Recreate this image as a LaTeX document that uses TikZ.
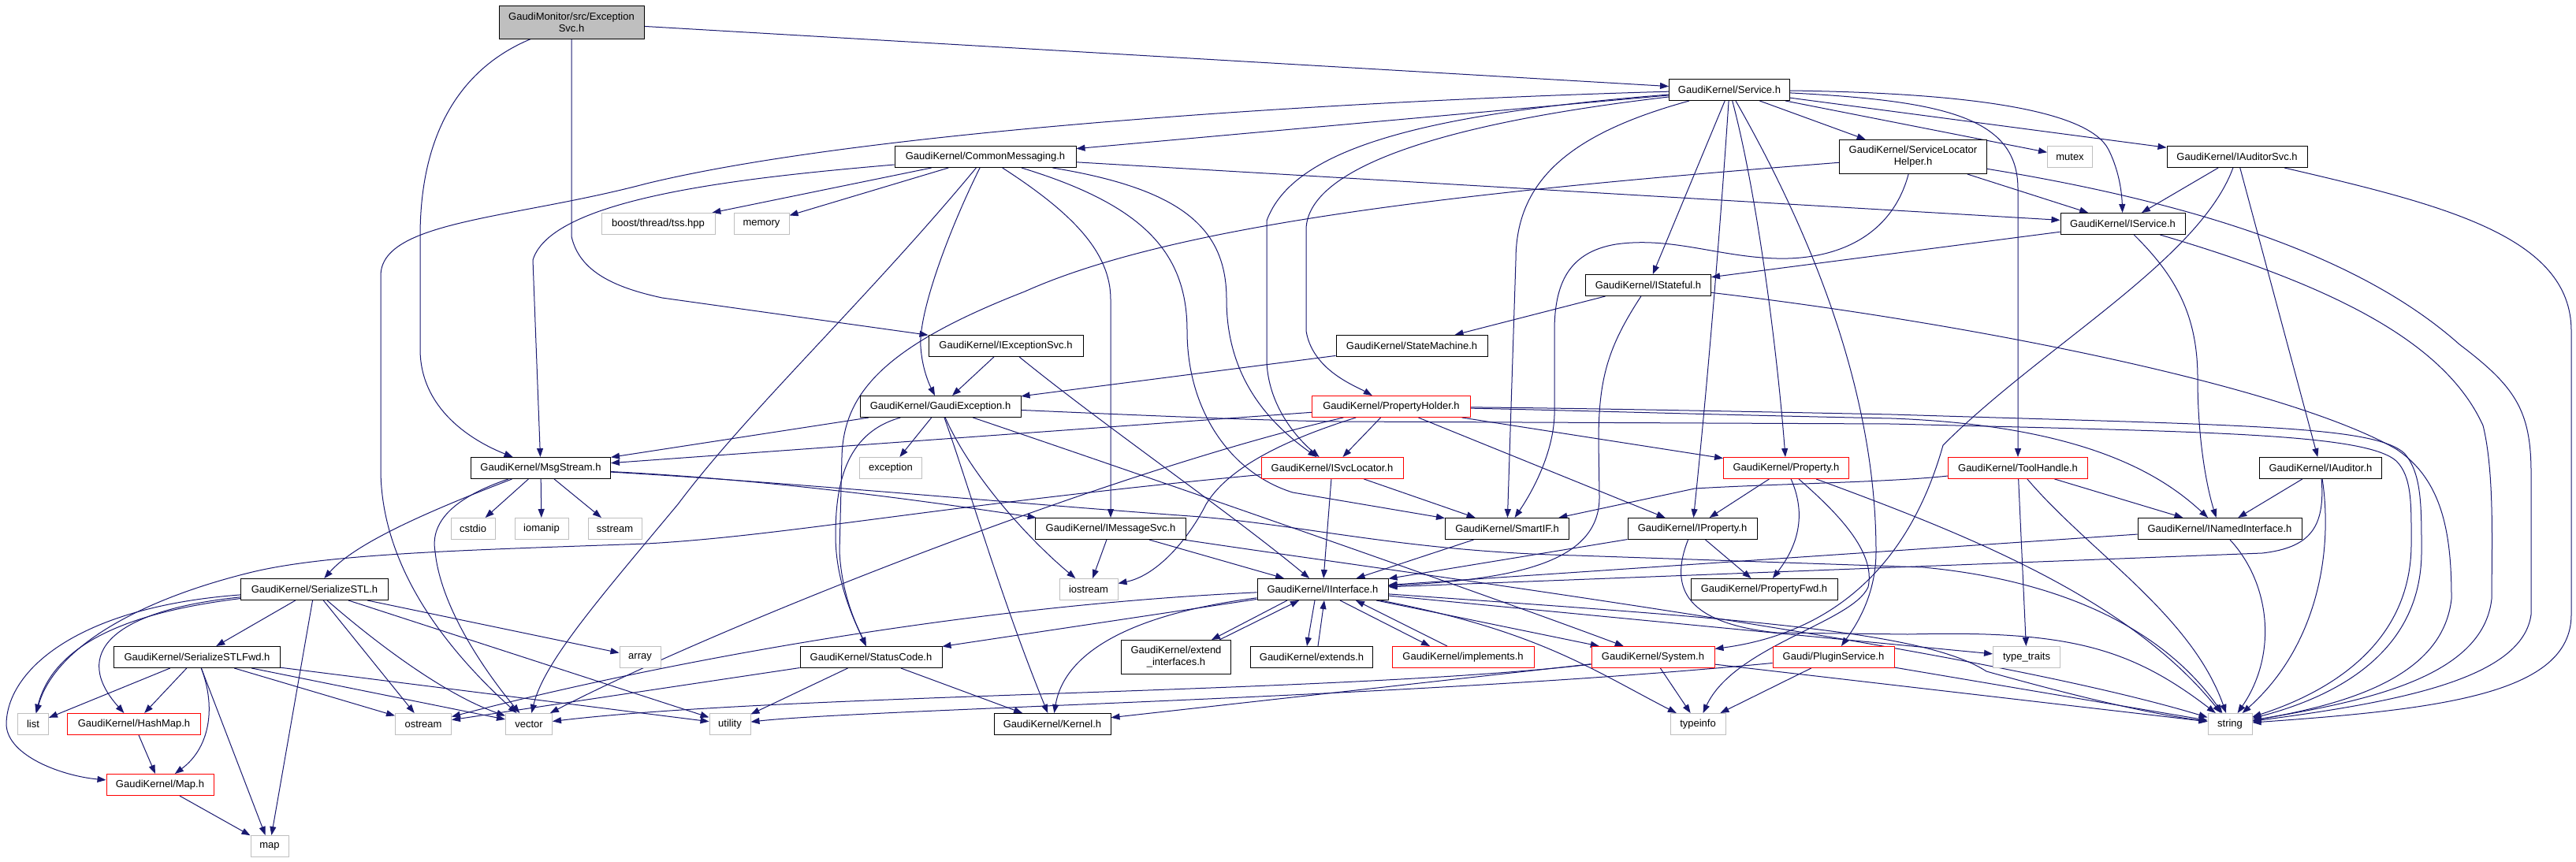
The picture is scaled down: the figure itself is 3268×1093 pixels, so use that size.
\documentclass[tikz,border=0pt]{standalone}
\usepackage{fontspec}
\setmainfont{Liberation Sans}
\usetikzlibrary{arrows.meta}
\definecolor{edgec}{HTML}{191970}
\definecolor{grayb}{HTML}{BFBFBF}
\newcommand\gkfont{\fontsize{13pt}{15pt}\selectfont}
\pgfdeclarelayer{bg}
\pgfsetlayers{bg,main}
\tikzset{
  gbox/.style={rectangle, font=\gkfont, minimum height=27pt, inner xsep=0pt, inner ysep=2pt, align=center, fill=white, line width=1pt},
  nb/.style={gbox, draw=black},
  nr/.style={gbox, draw=red},
  ng/.style={gbox, draw=grayb},
  root/.style={gbox, draw=black, fill=grayb},
  edg/.style={draw=edgec, line width=1pt, -{Triangle[length=11pt,width=8pt]}, fill=none}
}
\begin{document}
\begin{tikzpicture}[x=1pt,y=-1pt]
\useasboundingbox (0,0) rectangle (3268,1093);
% nodes
\node[root, minimum width=184pt, minimum height=42pt] (exsvc) at (725,28) {GaudiMonitor/src/Exception\\Svc.h};
\node[nb, minimum width=153pt] (svc) at (2194,114) {GaudiKernel/Service.h};
\node[nb, minimum width=230pt] (cm) at (1250,199) {GaudiKernel/CommonMessaging.h};
\node[ng, minimum width=144pt] (tss) at (835,284) {boost/thread/tss.hpp};
\node[ng, minimum width=70pt] (mem) at (966,284) {memory};
\node[nb, minimum width=187pt, minimum height=43pt] (slh) at (2427,199) {GaudiKernel/ServiceLocator\\Helper.h};
\node[ng, minimum width=57pt] (mutex) at (2626,199) {mutex};
\node[nb, minimum width=178pt] (ias) at (2838,199) {GaudiKernel/IAuditorSvc.h};
\node[nb, minimum width=158pt] (isvc) at (2693,284) {GaudiKernel/IService.h};
\node[nb, minimum width=159pt] (istate) at (2091,362) {GaudiKernel/IStateful.h};
\node[nb, minimum width=196pt] (iexc) at (1276,439) {GaudiKernel/IExceptionSvc.h};
\node[nb, minimum width=192pt] (sm) at (1791,439) {GaudiKernel/StateMachine.h};
\node[nb, minimum width=204pt] (gexc) at (1193,516) {GaudiKernel/GaudiException.h};
\node[nr, minimum width=201pt] (ph) at (1765,516) {GaudiKernel/PropertyHolder.h};
\node[nb, minimum width=177pt] (msg) at (686,594) {GaudiKernel/MsgStream.h};
\node[ng, minimum width=79pt] (exc) at (1130,594) {exception};
\node[nr, minimum width=180pt] (isl) at (1690,594) {GaudiKernel/ISvcLocator.h};
\node[nr, minimum width=159pt] (prop) at (2266,594) {GaudiKernel/Property.h};
\node[nr, minimum width=177pt] (th) at (2560,594) {GaudiKernel/ToolHandle.h};
\node[nb, minimum width=155pt] (iaud) at (2944,594) {GaudiKernel/IAuditor.h};
\node[ng, minimum width=56pt] (cstdio) at (600,671) {cstdio};
\node[ng, minimum width=68pt] (iomanip) at (687,671) {iomanip};
\node[ng, minimum width=68pt] (sstream) at (780,671) {sstream};
\node[nb, minimum width=191pt] (ims) at (1409,671) {GaudiKernel/IMessageSvc.h};
\node[nb, minimum width=157pt] (smart) at (1912,671) {GaudiKernel/SmartIF.h};
\node[nb, minimum width=164pt] (iprop) at (2147,671) {GaudiKernel/IProperty.h};
\node[nb, minimum width=208pt] (ini) at (2816,671) {GaudiKernel/INamedInterface.h};
\node[nb, minimum width=187pt] (sstl) at (399,748) {GaudiKernel/SerializeSTL.h};
\node[ng, minimum width=74pt] (iostream) at (1381,748) {iostream};
\node[nb, minimum width=166pt] (iif) at (1678,748) {GaudiKernel/IInterface.h};
\node[nb, minimum width=186pt] (pfwd) at (2238,748) {GaudiKernel/PropertyFwd.h};
\node[nb, minimum width=211pt] (sfwd) at (250,834) {GaudiKernel/SerializeSTLFwd.h};
\node[ng, minimum width=52pt] (array) at (812,834) {array};
\node[nb, minimum width=180pt] (sc) at (1105,834) {GaudiKernel/StatusCode.h};
\node[nb, minimum width=139pt, minimum height=43pt] (extif) at (1492,834) {GaudiKernel/extend\\\_interfaces.h};
\node[nb, minimum width=155pt] (ext) at (1664,834) {GaudiKernel/extends.h};
\node[nr, minimum width=180pt] (impl) at (1856,834) {GaudiKernel/implements.h};
\node[nr, minimum width=156pt] (sys) at (2097,834) {GaudiKernel/System.h};
\node[nr, minimum width=154pt] (plug) at (2326,834) {Gaudi/PluginService.h};
\node[ng, minimum width=85pt] (tt) at (2571,834) {type\_traits};
\node[ng, minimum width=39pt] (list) at (42,919) {list};
\node[nr, minimum width=169pt] (hmap) at (170,919) {GaudiKernel/HashMap.h};
\node[ng, minimum width=71pt] (ostream) at (537,919) {ostream};
\node[ng, minimum width=59pt] (vector) at (671,919) {vector};
\node[ng, minimum width=52pt] (utility) at (926,919) {utility};
\node[nb, minimum width=148pt] (kernel) at (1335,919) {GaudiKernel/Kernel.h};
\node[ng, minimum width=70pt] (typeinfo) at (2154,919) {typeinfo};
\node[ng, minimum width=56pt] (string) at (2829,919) {string};
\node[nr, minimum width=136pt] (gmap) at (203,996) {GaudiKernel/Map.h};
\node[ng, minimum width=48pt] (map) at (342,1074) {map};

\begin{pgfonlayer}{bg}
% ExceptionSvc
\draw[edg] (exsvc) -- (svc);
\draw[edg] (exsvc) .. controls (600,80) and (533,150) .. (533,300) -- (533,443) .. controls (533,520) and (600,560) .. (msg);
\draw[edg] (exsvc.south) -- (725,300) .. controls (735,345) and (780,365) .. (840,378) -- (iexc);
% Service
\draw[edg] (svc) -- (cm);
\draw[edg] (svc) .. controls (1700,128) and (1100,165) .. (820,233) .. controls (650,278) and (483,280) .. (483,350) -- (483,600) .. controls (485,700) and (540,800) .. (vector);
\draw[edg] (svc) .. controls (1800,145) and (1640,190) .. (1607,280) -- (1607,460) .. controls (1610,520) and (1650,560) .. (isl);
\draw[edg] (svc) .. controls (1800,160) and (1660,220) .. (1657,290) -- (1657,420) .. controls (1665,470) and (1720,490) .. (ph);
\draw[edg] (svc) .. controls (1990,170) and (1923,230) .. (1923,330) -- (smart);
\draw[edg] (svc) -- (istate);
\draw[edg] (svc) .. controls (2185,250) and (2170,450) .. (iprop);
\draw[edg] (svc) .. controls (2230,250) and (2255,450) .. (prop);
\draw[edg] (svc) .. controls (2300,300) and (2380,500) .. (2380,700) .. controls (2380,760) and (2350,800) .. (plug);
\draw[edg] (svc) -- (slh);
\draw[edg] (svc) .. controls (2500,118) and (2650,140) .. (2675,190) .. controls (2690,220) and (2692,250) .. (isvc);
\draw[edg] (svc) .. controls (2470,128) and (2560,150) .. (2560,240) -- (th);
\draw[edg] (svc) -- (mutex);
\draw[edg] (svc) -- (ias);
% CommonMessaging
\draw[edg] (cm) -- (tss);
\draw[edg] (cm) -- (mem);
\draw[edg] (cm) .. controls (950,225) and (700,250) .. (676,330) -- (msg);
\draw[edg] (cm) .. controls (1200,300) and (1165,400) .. (1168,440) .. controls (1170,470) and (1180,490) .. (gexc);
\draw[edg] (cm) .. controls (1360,270) and (1409,320) .. (1409,380) -- (ims);
\draw[edg] (cm) .. controls (1450,260) and (1506,320) .. (1506,420) .. controls (1506,520) and (1560,600) .. (1640,625) -- (smart);
\draw[edg] (cm) .. controls (1500,240) and (1556,290) .. (1556,380) .. controls (1556,470) and (1600,530) .. (isl);
\draw[edg] (cm) -- (isvc);
\draw[edg] (cm) .. controls (1100,380) and (950,520) .. (860,640) .. controls (760,760) and (690,840) .. (vector);
% ServiceLocatorHelper
\draw[edg] (slh) .. controls (2400,300) and (2330,330) .. (2254,328) .. controls (2180,326) and (2120,300) .. (2050,310) .. controls (1990,320) and (1972,360) .. (1972,420) -- (1972,527) .. controls (1970,580) and (1940,630) .. (smart);
\draw[edg] (slh) -- (isvc);
\draw[edg] (slh) .. controls (2800,260) and (3000,330) .. (3120,437) .. controls (3190,490) and (3211,520) .. (3211,600) -- (3211,780) .. controls (3200,860) and (3050,890) .. (string);
\draw[edg] (slh) .. controls (1900,240) and (1500,280) .. (1300,370) .. controls (1120,440) and (1070,500) .. (1068,580) -- (1065,700) .. controls (1068,760) and (1090,800) .. (sc);
% IAuditorSvc
\draw[edg] (ias) -- (isvc);
\draw[edg] (ias) .. controls (2790,330) and (2590,440) .. (2465,565) .. controls (2430,690) and (2350,800) .. (sys);
\draw[edg] (ias) -- (iaud);
\draw[edg] (ias) .. controls (3100,260) and (3262,300) .. (3262,420) -- (3262,780) .. controls (3262,880) and (3100,900) .. (string);
% IService
\draw[edg] (isvc) -- (istate);
\draw[edg] (isvc) .. controls (2760,350) and (2788,400) .. (2788,480) .. controls (2788,560) and (2800,620) .. (ini);
\draw[edg] (isvc) .. controls (2950,360) and (3100,430) .. (3150,540) .. controls (3165,600) and (3161,700) .. (3161,760) .. controls (3150,860) and (3000,890) .. (string);
% IStateful
\draw[edg] (istate) -- (sm);
\draw[edg] (istate) .. controls (2040,440) and (2028,480) .. (2028,560) -- (2029,630) .. controls (2030,715) and (1920,735) .. (iif);
\draw[edg] (istate) .. controls (2500,410) and (2900,490) .. (3040,570) .. controls (3100,610) and (3110,680) .. (3110,760) .. controls (3100,850) and (3000,890) .. (string);
% StateMachine, IExceptionSvc
\draw[edg] (sm) -- (gexc);
\draw[edg] (iexc) -- (gexc);
\draw[edg] (iexc) .. controls (1400,540) and (1560,650) .. (iif);
% GaudiException
\draw[edg] (gexc) -- (msg);
\draw[edg] (gexc) -- (exc);
\draw[edg] (gexc) .. controls (1070,550) and (1060,620) .. (1060,680) .. controls (1060,740) and (1085,790) .. (sc);
\draw[edg] (gexc) .. controls (1230,620) and (1270,760) .. (kernel);
\draw[edg] (gexc) .. controls (1230,600) and (1300,680) .. (iostream);
\draw[edg] (gexc) .. controls (1500,620) and (1900,760) .. (sys);
\draw[edg] (gexc) .. controls (1400,525) and (1600,534) .. (1700,535) -- (2400,538) .. controls (2800,548) and (3000,550) .. (3040,585) .. controls (3060,605) and (3059,640) .. (3059,690) .. controls (3059,820) and (2950,880) .. (string);
% PropertyHolder
\draw[edg] (ph) -- (msg);
\draw[edg] (ph) -- (isl);
\draw[edg] (ph) -- (prop);
\draw[edg] (ph) -- (iprop);
\draw[edg] (ph) .. controls (2000,521) and (2200,527) .. (2400,531) .. controls (2640,540) and (2740,600) .. (ini);
\draw[edg] (ph) .. controls (2000,518) and (2200,522) .. (2400,526) .. controls (2850,540) and (3010,540) .. (3050,575) .. controls (3072,600) and (3072,640) .. (3072,700) .. controls (3072,830) and (2960,885) .. (string);
\draw[edg] (ph) .. controls (1400,600) and (900,800) .. (vector);
\draw[edg] (ph) .. controls (1640,555) and (1560,590) .. (1530,640) .. controls (1510,680) and (1470,730) .. (iostream);
% ISvcLocator
\draw[edg] (isl) -- (smart);
\draw[edg] (isl) -- (iif);
\draw[edg] (isl) .. controls (1200,640) and (1000,680) .. (820,690) .. controls (600,698) and (420,702) .. (320,726) .. controls (180,760) and (70,820) .. (list);
% Property
\draw[edg] (prop) -- (iprop);
\draw[edg] (prop) .. controls (2295,660) and (2275,700) .. (pfwd);
\draw[edg] (prop) .. controls (2500,680) and (2700,760) .. (string);
\draw[edg] (prop) .. controls (2330,650) and (2380,700) .. (2370,745) .. controls (2350,790) and (2200,820) .. (typeinfo);
% ToolHandle
\draw[edg] (th) -- (ini);
\draw[edg] (th) -- (tt);
\draw[edg] (th) .. controls (2650,700) and (2780,780) .. (string);
\draw[edg] (th) .. controls (2400,612) and (2250,614) .. (2150,620) -- (smart);
% IAuditor
\draw[edg] (iaud) -- (ini);
\draw[edg] (iaud) .. controls (2960,700) and (2940,820) .. (string);
\draw[edg] (iaud) .. controls (2950,670) and (2930,695) .. (2870,702) -- (iif);
% INamedInterface
\draw[edg] (ini) -- (iif);
\draw[edg] (ini) .. controls (2880,740) and (2890,830) .. (string);
% IProperty
\draw[edg] (iprop) -- (iif);
\draw[edg] (iprop) -- (pfwd);
\draw[edg] (iprop) .. controls (2120,740) and (2130,790) .. (2254,803) -- (2420,805) .. controls (2620,800) and (2700,820) .. (string);
% MsgStream
\draw[edg] (msg) -- (cstdio);
\draw[edg] (msg) -- (iomanip);
\draw[edg] (msg) -- (sstream);
\draw[edg] (msg) .. controls (540,650) and (450,690) .. (sstl);
\draw[edg] (msg) .. controls (580,630) and (545,660) .. (552,700) .. controls (560,780) and (630,870) .. (vector);
\draw[edg] (msg) .. controls (1000,610) and (1200,640) .. (ims);
\draw[edg] (msg) .. controls (1000,612) and (1300,640) .. (1510,655) .. controls (1650,665) and (1780,700) .. (2000,705) -- (2440,720) .. controls (2650,740) and (2760,820) .. (string);
% IMessageSvc
\draw[edg] (ims) -- (iostream);
\draw[edg] (ims) -- (iif);
\draw[edg] (ims) .. controls (1800,730) and (2500,820) .. (string);
% SmartIF
\draw[edg] (smart) -- (iif);
% SerializeSTL
\draw[edg] (sstl) -- (sfwd);
\draw[edg] (sstl) .. controls (180,775) and (70,810) .. (list);
\draw[edg] (sstl) .. controls (140,775) and (90,830) .. (hmap);
\draw[edg] (sstl) .. controls (100,770) and (8,850) .. (8,920) .. controls (10,960) and (80,985) .. (gmap);
\draw[edg] (sstl) -- (map);
\draw[edg] (sstl) -- (ostream);
\draw[edg] (sstl) .. controls (470,810) and (560,880) .. (vector);
\draw[edg] (sstl) -- (utility);
\draw[edg] (sstl) -- (array);
% SerializeSTLFwd
\draw[edg] (sfwd) -- (list);
\draw[edg] (sfwd) -- (hmap);
\draw[edg] (sfwd) .. controls (275,900) and (265,950) .. (gmap);
\draw[edg] (sfwd) -- (map);
\draw[edg] (sfwd) -- (ostream);
\draw[edg] (sfwd) -- (vector);
\draw[edg] (sfwd) -- (utility);
% HashMap, Map
\draw[edg] (hmap) -- (gmap);
\draw[edg] (gmap) -- (map);
% IInterface
\draw[edg] ([xshift=-45pt]iif.south) -- ([xshift=45pt]extif.north);
\draw[edg] ([xshift=55pt]extif.north) -- ([xshift=-30pt]iif.south);
\draw[edg] ([xshift=-10pt]iif.south) -- ([xshift=-6pt]ext.north);
\draw[edg] ([xshift=8pt]ext.north) -- ([xshift=2pt]iif.south);
\draw[edg] ([xshift=22pt]iif.south) -- ([xshift=-42pt]impl.north);
\draw[edg] ([xshift=-20pt]impl.north) -- ([xshift=42pt]iif.south);
\draw[edg] (iif) -- (sc);
\draw[edg] (iif) .. controls (1430,780) and (1350,830) .. (kernel);
\draw[edg] (iif) -- (sys);
\draw[edg] (iif) .. controls (1950,800) and (2020,850) .. (typeinfo);
\draw[edg] (iif) .. controls (2200,785) and (2440,800) .. (2520,852) .. controls (2620,880) and (2720,905) .. (string);
\draw[edg] (iif) -- (tt);
\draw[edg] (iif) .. controls (1200,770) and (800,850) .. (ostream);
% StatusCode
\draw[edg] (sc) -- (ostream);
\draw[edg] (sc) -- (utility);
\draw[edg] (sc) -- (kernel);
% System
\draw[edg] (sys) -- (kernel);
\draw[edg] (sys) -- (typeinfo);
\draw[edg] (sys) -- (string);
\draw[edg] (sys) .. controls (1700,880) and (1000,880) .. (vector);
% PluginService
\draw[edg] (plug) -- (typeinfo);
\draw[edg] (plug) -- (string);
\draw[edg] (plug) .. controls (1800,885) and (1100,900) .. (utility);
\end{pgfonlayer}
\end{tikzpicture}
\end{document}
